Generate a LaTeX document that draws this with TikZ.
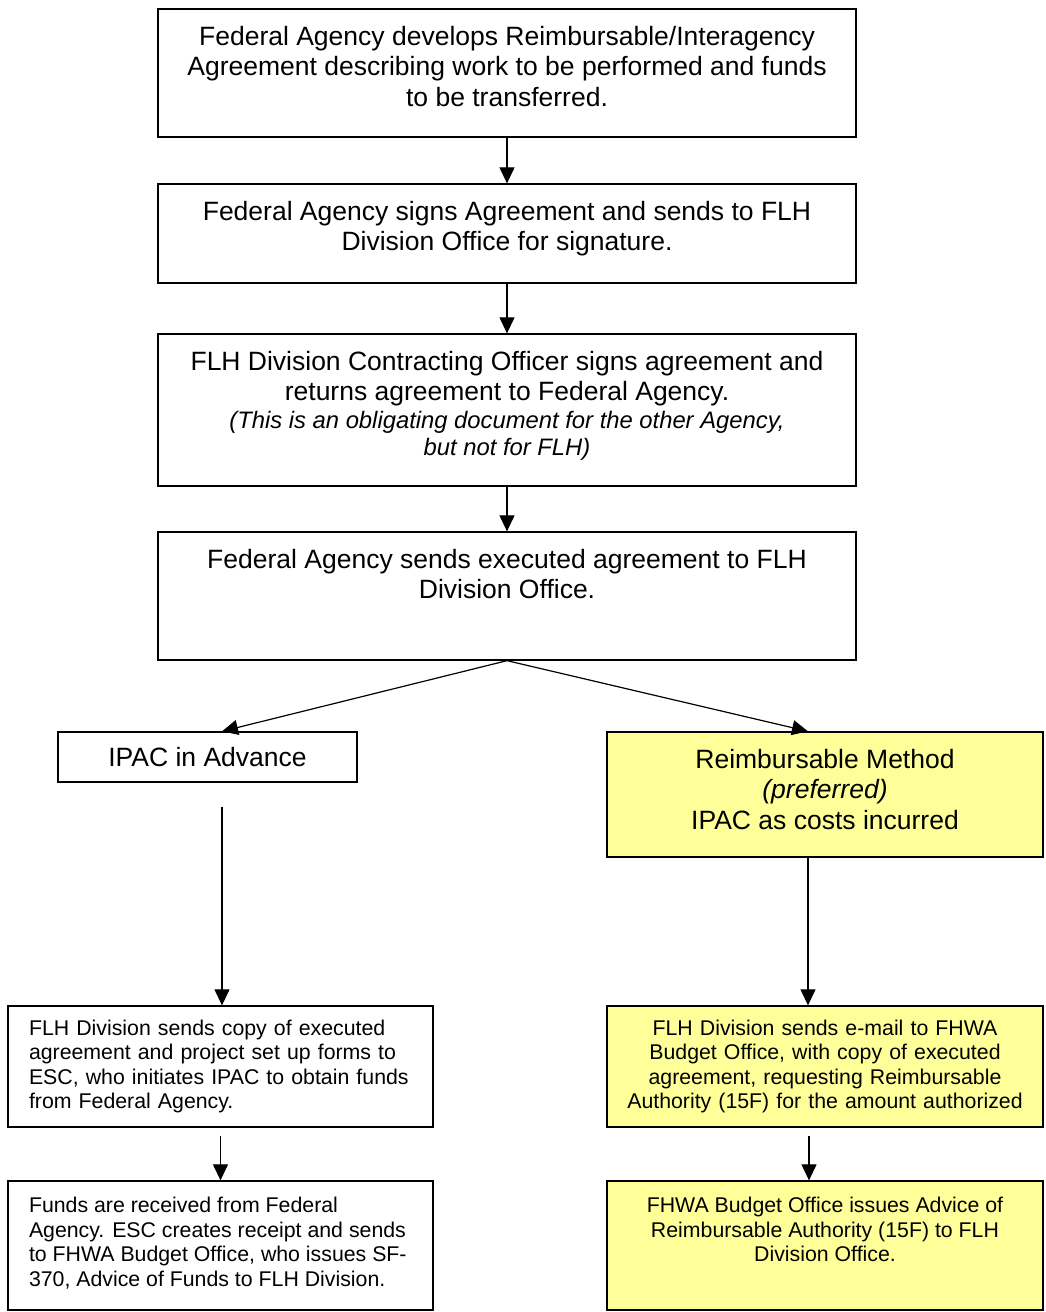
\documentclass[tikz,border=0pt]{standalone}
\usepackage{fontspec}
\setmainfont{Liberation Sans}
\usetikzlibrary{arrows.meta}

\definecolor{noteyellow}{HTML}{FFFF99}
\newcommand{\bigtxt}{\fontsize{26.5}{30.5}\selectfont}
\newcommand{\notetxt}{\fontsize{23.8}{27.4}\selectfont\itshape}
\newcommand{\smalltxt}{\fontsize{21.3}{24.5}\selectfont}
% text hanging from the top of a box: height, width, top gap, text
\newcommand{\toptext}[4]{\parbox[c][#1][t]{#2}{\centering\vspace*{#3}#4\par}}

\tikzset{
  flowbox/.style={draw, line width=1.3pt, inner sep=0pt, fill=white},
  yellowbox/.style={flowbox, fill=noteyellow},
  flowarrow/.style={-{Triangle[length=16pt,width=15pt]}, line width=1.2pt}
}

\begin{document}
\begin{tikzpicture}[x=1pt, y=-1pt]
        \useasboundingbox (0,0) rectangle (1045,1312);
        \fill[white] (0,0) rectangle (1045,1312);

        % Agreement steps
        \node[flowbox] (agree) at (507,73) {\toptext{128pt}{698pt}{15pt}{\bigtxt\strut Federal Agency develops Reimbursable/Interagency\\ Agreement describing work to be performed and funds\\ to be transferred.}};
        \node[flowbox] (signs) at (507,233.5) {\toptext{99pt}{698pt}{15pt}{\bigtxt\strut Federal Agency signs Agreement and sends to FLH\\ Division Office for signature.}};
        \node[flowbox] (cosign) at (507,410) {\toptext{152pt}{698pt}{15pt}{{\bigtxt\strut FLH Division Contracting Officer signs agreement and\\ returns agreement to Federal Agency.\par}{\notetxt (This is an obligating document for the other Agency,\\ but not for FLH)\par}}};
        \node[flowbox] (execd) at (507,596) {\toptext{128pt}{698pt}{15pt}{\bigtxt\strut Federal Agency sends executed agreement to FLH\\ Division Office.}};

        % Two methods
        \node[flowbox, minimum width=299pt, minimum height=50pt, font=\bigtxt] (advance) at (207.5,757) {IPAC in Advance};
        \node[yellowbox] (reimb) at (825,794.5) {\toptext{125pt}{436pt}{15pt}{\bigtxt\strut Reimbursable Method\\ \textit{(preferred)}\\ IPAC as costs incurred}};

        % Follow-up steps
        \node[flowbox, minimum width=425pt, minimum height=121pt, inner xsep=21pt, text width=383pt, align=left, font=\smalltxt] (esc) at (220.5,1066.5) {FLH Division sends copy of executed\\ agreement and project set up forms to\\ ESC, who initiates IPAC to obtain funds\\ from Federal Agency.};
        \node[yellowbox, minimum width=436pt, minimum height=121pt, inner xsep=18pt, text width=400pt, align=center, font=\smalltxt] (email) at (825,1066.5) {FLH Division sends e-mail to FHWA\\ Budget Office, with copy of executed\\ agreement, requesting Reimbursable\\ Authority (15F) for the amount authorized};
        \node[flowbox, inner xsep=21pt] (funds) at (220.5,1245.5) {\toptext{129pt}{383pt}{14.5pt}{\smalltxt\raggedright\strut Funds are received from Federal\\ Agency. ESC creates receipt and sends\\ to FHWA Budget Office, who issues SF-\\ 370, Advice of Funds to FLH Division.}};
        \node[yellowbox] (advice) at (825,1245.5) {\toptext{129pt}{436pt}{14.5pt}{\smalltxt\strut FHWA Budget Office issues Advice of\\ Reimbursable Authority (15F) to FLH\\ Division Office.}};

        % Arrows
        \draw[flowarrow] (agree) -- (signs);
        \draw[flowarrow] (signs) -- (cosign);
        \draw[flowarrow] (cosign) -- (execd);
        \draw[flowarrow] (execd.south) -- ([xshift=14.5pt]advance.north);
        \draw[flowarrow] (execd.south) -- ([xshift=-17pt]reimb.north);
        \coordinate (advdrop) at (222,807);
        \draw[flowarrow] (advdrop) -- (esc.north -| advdrop);
        \draw[flowarrow] ([xshift=-17pt]reimb.south) -- ([xshift=-17pt]email.north);
        \draw[flowarrow, shorten <=8pt] (esc) -- (funds);
        \draw[flowarrow, shorten <=8pt] ([xshift=-16pt]email.south) -- ([xshift=-16pt]advice.north);
    \end{tikzpicture}
\end{document}
